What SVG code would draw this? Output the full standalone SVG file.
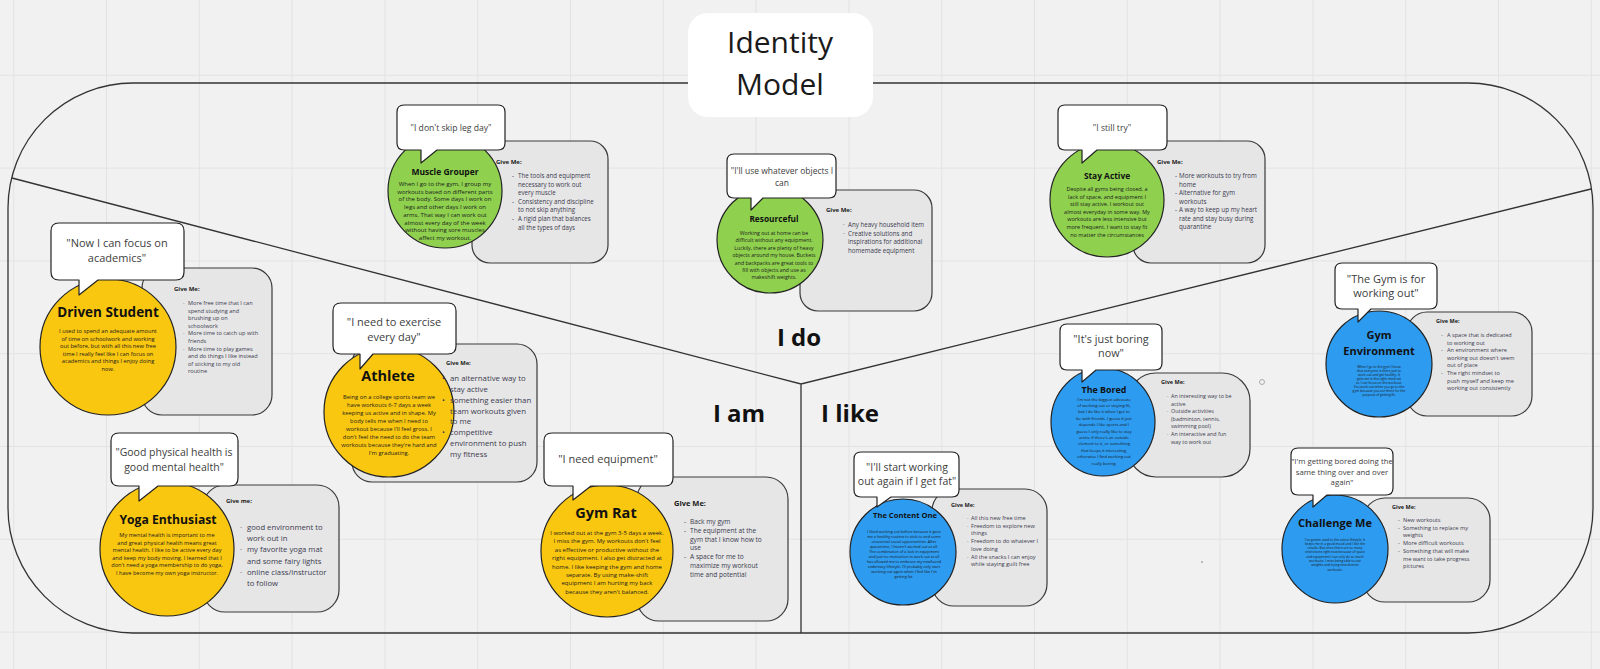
<svg xmlns="http://www.w3.org/2000/svg" width="1600" height="669" viewBox="0 0 1600 669">
<defs>
<pattern id="grid" x="13.2" y="74.8" width="92.8" height="92.8" patternUnits="userSpaceOnUse">
<path d="M0 0.5H92.8M0.5 0V92.8" stroke="#e3e3e3" stroke-width="1" fill="none"/>
</pattern>
<style>
text{font-family:"Open Sans","Liberation Sans",sans-serif}
.frame{fill:none;stroke:#333;stroke-width:1.3}
.give{fill:#e6e6e6;stroke:#3a3a3a;stroke-width:1.2}
.bubble{fill:#fff;stroke:#222;stroke-width:1.2;stroke-linejoin:round}
.yellow{fill:#fac710;stroke:#222;stroke-width:1.2}
.green{fill:#8fd14f;stroke:#222;stroke-width:1.2}
.blue{fill:#2d9bf0;stroke:#222;stroke-width:1.2}
.q{fill:#404040;text-anchor:middle}
.t{font-weight:700;fill:#111;text-anchor:middle}
.b{fill:#1a1a1a;text-anchor:middle}
.g{font-weight:700;fill:#1a1a1a}
.i{fill:#3b3b4f}
.lbl{font-weight:700;fill:#111;font-size:24px;text-anchor:middle}
</style>
</defs>
<rect width="1600" height="669" fill="#f1f1f1"/>
<rect width="1600" height="669" fill="url(#grid)"/>

<g id="frame">
<rect class="frame" x="8" y="83" width="1585" height="550" rx="125" ry="125"/>
<path class="frame" d="M12 178L801 384L1591 189M801 384V633"/>
</g>

<g id="title">
<rect x="688" y="13" width="185" height="104" rx="20" fill="#fff"/>
<text x="780" y="53" font-size="30" fill="#1a1a1a" text-anchor="middle">Identity</text>
<text x="780" y="95" font-size="30" fill="#1a1a1a" text-anchor="middle">Model</text>
</g>

<g id="labels">
<text class="lbl" x="799" y="346">I do</text>
<text class="lbl" x="739" y="422">I am</text>
<text class="lbl" x="850" y="422">I like</text>
</g>

<g id="muscle-grouper">
<rect class="give" x="472" y="141" width="136" height="122" rx="18"/>
<circle class="green" cx="445" cy="191" r="57"/>
<path class="bubble" d="M404 105H498Q505 105 505 112V143Q505 150 498 150H437L421 163V150H404Q397 150 397 143V112Q397 105 404 105Z"/>
<text class="q" x="451" y="131" font-size="8.6">"I don't skip leg day"</text>
<text class="t" x="445" y="175" font-size="8.5">Muscle Grouper</text>
<text class="b" x="445" y="186" font-size="6"><tspan x="445" dy="0">When I go to the gym, I group my</tspan><tspan x="445" dy="7.7">workouts based on different parts</tspan><tspan x="445" dy="7.7">of the body. Some days I work on</tspan><tspan x="445" dy="7.7">legs and other days I work on</tspan><tspan x="445" dy="7.7">arms. That way I can work out</tspan><tspan x="445" dy="7.7">almost every day of the week</tspan><tspan x="445" dy="7.7">without having sore muscles</tspan><tspan x="445" dy="7.7">affect my workout.</tspan></text>
<text class="g" x="496" y="164" font-size="6">Give Me:</text>
<text class="i" font-size="6.2"><tspan x="512" y="178">-</tspan><tspan x="518" y="178">The tools and equipment</tspan><tspan x="518" y="186.6">necessary to work out</tspan><tspan x="518" y="195.2">every muscle</tspan><tspan x="512" y="203.8">-</tspan><tspan x="518" y="203.8">Consistency and discipline</tspan><tspan x="518" y="212.4">to not skip anything</tspan><tspan x="512" y="221">-</tspan><tspan x="518" y="221">A rigid plan that balances</tspan><tspan x="518" y="229.6">all the types of days</tspan></text>
</g>

<g id="resourceful">
<rect class="give" x="800" y="190" width="132" height="121" rx="18"/>
<circle class="green" cx="770" cy="240" r="53"/>
<path class="bubble" d="M734 154H829Q836 154 836 161V191Q836 198 829 198H763L751 210V198H734Q727 198 727 191V161Q727 154 734 154Z"/>
<text class="q" x="782" y="174" font-size="8.5">"I'll use whatever objects I</text>
<text class="q" x="782" y="186" font-size="8.5">can</text>
<text class="t" x="774" y="222" font-size="8.3">Resourceful</text>
<text class="b" x="774" y="235" font-size="5.2"><tspan x="774" dy="0">Working out at home can be</tspan><tspan x="774" dy="7.4">difficult without any equipment.</tspan><tspan x="774" dy="7.4">Luckily, there are plenty of heavy</tspan><tspan x="774" dy="7.4">objects around my house. Buckets</tspan><tspan x="774" dy="7.4">and backpacks are great tools to</tspan><tspan x="774" dy="7.4">fill with objects and use as</tspan><tspan x="774" dy="7.4">makeshift weights.</tspan></text>
<text class="g" x="826" y="212" font-size="6">Give Me:</text>
<text class="i" font-size="6.2"><tspan x="843" y="227">·</tspan><tspan x="848" y="227">Any heavy household item</tspan><tspan x="843" y="235.6">·</tspan><tspan x="848" y="235.6">Creative solutions and</tspan><tspan x="848" y="244.2">inspirations for additional</tspan><tspan x="848" y="252.8">homemade equipment</tspan></text>
</g>

<g id="stay-active">
<rect class="give" x="1133" y="141" width="132" height="122" rx="18"/>
<circle class="green" cx="1107" cy="200" r="57"/>
<path class="bubble" d="M1065 105H1160Q1167 105 1167 112V143Q1167 150 1160 150H1097L1082 163V150H1065Q1058 150 1058 143V112Q1058 105 1065 105Z"/>
<text class="q" x="1112" y="131" font-size="8.6">"I still try"</text>
<text class="t" x="1107" y="179" font-size="8.4">Stay Active</text>
<text class="b" x="1107" y="191" font-size="5.5"><tspan x="1107" dy="0">Despite all gyms being closed, a</tspan><tspan x="1107" dy="7.6">lack of space, and equipment I</tspan><tspan x="1107" dy="7.6">still stay active. I workout out</tspan><tspan x="1107" dy="7.6">almost everyday in some way. My</tspan><tspan x="1107" dy="7.6">workouts are less intensive but</tspan><tspan x="1107" dy="7.6">more frequent. I want to stay fit</tspan><tspan x="1107" dy="7.6">no matter the circumstances</tspan></text>
<text class="g" x="1157" y="164" font-size="6">Give Me:</text>
<text class="i" font-size="6.3"><tspan x="1175" y="178">-</tspan><tspan x="1179" y="178">More workouts to try from</tspan><tspan x="1179" y="186.5">home</tspan><tspan x="1175" y="195">-</tspan><tspan x="1179" y="195">Alternative for gym</tspan><tspan x="1179" y="203.5">workouts</tspan><tspan x="1175" y="212">-</tspan><tspan x="1179" y="212">A way to keep up my heart</tspan><tspan x="1179" y="220.5">rate and stay busy during</tspan><tspan x="1179" y="229">quarantine</tspan></text>
</g>

<g id="driven-student">
<rect class="give" x="142" y="268" width="130" height="147" rx="20"/>
<circle class="yellow" cx="108" cy="347" r="68"/>
<path class="bubble" d="M59 223H176Q184 223 184 231V272Q184 280 176 280H98L79 295V280H59Q51 280 51 272V231Q51 223 59 223Z"/>
<text class="q" x="117" y="247" font-size="11">"Now I can focus on</text>
<text class="q" x="117" y="262" font-size="11">academics"</text>
<text class="t" x="108" y="317" font-size="13.5">Driven Student</text>
<text class="b" x="108" y="333" font-size="5.7"><tspan x="108" dy="0">I used to spend an adequate amount</tspan><tspan x="108" dy="7.6">of time on schoolwork and working</tspan><tspan x="108" dy="7.6">out before, but with all this new free</tspan><tspan x="108" dy="7.6">time I really feel like I can focus on</tspan><tspan x="108" dy="7.6">academics and things I enjoy doing</tspan><tspan x="108" dy="7.6">now.</tspan></text>
<text class="g" x="174" y="291" font-size="6">Give Me:</text>
<text class="i" font-size="5.6"><tspan x="183" y="305">·</tspan><tspan x="188" y="305">More free time that I can</tspan><tspan x="188" y="312.6">spend studying and</tspan><tspan x="188" y="320.2">brushing up on</tspan><tspan x="188" y="327.8">schoolwork</tspan><tspan x="183" y="335.4">·</tspan><tspan x="188" y="335.4">More time to catch up with</tspan><tspan x="188" y="343">friends</tspan><tspan x="183" y="350.6">·</tspan><tspan x="188" y="350.6">More time to play games</tspan><tspan x="188" y="358.2">and do things I like instead</tspan><tspan x="188" y="365.8">of sticking to my old</tspan><tspan x="188" y="373.4">routine</tspan></text>
</g>

<g id="athlete">
<rect class="give" x="352" y="344" width="185" height="138" rx="20"/>
<circle class="yellow" cx="389" cy="412" r="65"/>
<path class="bubble" d="M341 303H448Q456 303 456 311V346Q456 354 448 354H373L360 369V354H341Q333 354 333 346V311Q333 303 341 303Z"/>
<text class="q" x="394" y="326" font-size="11">"I need to exercise</text>
<text class="q" x="394" y="341" font-size="11">every day"</text>
<text class="t" x="388" y="381" font-size="14.5">Athlete</text>
<text class="b" x="389" y="399" font-size="5.8"><tspan x="389" dy="0">Being on a college sports team we</tspan><tspan x="389" dy="8">have workouts 6-7 days a week</tspan><tspan x="389" dy="8">keeping us active and in shape. My</tspan><tspan x="389" dy="8">body tells me when I need to</tspan><tspan x="389" dy="8">workout because I'll feel gross. I</tspan><tspan x="389" dy="8">don't feel the need to do the team</tspan><tspan x="389" dy="8">workouts because they're hard and</tspan><tspan x="389" dy="8">I'm graduating.</tspan></text>
<text class="g" x="446" y="365" font-size="5.8">Give Me:</text>
<text class="i" font-size="7.8"><tspan x="442" y="381">•</tspan><tspan x="450" y="381">an alternative way to</tspan><tspan x="450" y="391.9">stay active</tspan><tspan x="442" y="402.7">•</tspan><tspan x="450" y="402.7">something easier than</tspan><tspan x="450" y="413.6">team workouts given</tspan><tspan x="450" y="424.4">to me</tspan><tspan x="442" y="435.3">•</tspan><tspan x="450" y="435.3">competitive</tspan><tspan x="450" y="446.1">environment to push</tspan><tspan x="450" y="457">my fitness</tspan></text>
</g>

<g id="yoga-enthusiast">
<rect class="give" x="203" y="485" width="136" height="127" rx="22"/>
<circle class="yellow" cx="167" cy="549" r="67"/>
<path class="bubble" d="M119 433H230Q238 433 238 441V478Q238 486 230 486H158L139 501V486H119Q111 486 111 478V441Q111 433 119 433Z"/>
<text class="q" x="174" y="456" font-size="10.5">"Good physical health is</text>
<text class="q" x="174" y="471" font-size="10.5">good mental health"</text>
<text class="t" x="168" y="524" font-size="12.2">Yoga Enthusiast</text>
<text class="b" x="167" y="537" font-size="5.6"><tspan x="167" dy="0">My mental health is important to me</tspan><tspan x="167" dy="7.6">and great physical health means great</tspan><tspan x="167" dy="7.6">mental health. I like to be active every day</tspan><tspan x="167" dy="7.6">and keep my body moving. I learned that I</tspan><tspan x="167" dy="7.6">don't need a yoga membership to do yoga,</tspan><tspan x="167" dy="7.6">I have become my own yoga instructor.</tspan></text>
<text class="g" x="226" y="503" font-size="6">Give me:</text>
<text class="i" font-size="7.7"><tspan x="240" y="530">·</tspan><tspan x="247" y="530">good environment to</tspan><tspan x="247" y="541.2">work out in</tspan><tspan x="240" y="552.4">·</tspan><tspan x="247" y="552.4">my favorite yoga mat</tspan><tspan x="247" y="563.6">and some fairy lights</tspan><tspan x="240" y="574.8">·</tspan><tspan x="247" y="574.8">online class/instructor</tspan><tspan x="247" y="586">to follow</tspan></text>
</g>

<g id="gym-rat">
<rect class="give" x="637" y="477" width="151" height="144" rx="22"/>
<circle class="yellow" cx="607" cy="551" r="66"/>
<path class="bubble" d="M552 433H665Q673 433 673 441V478Q673 486 665 486H591L573 500V486H552Q544 486 544 478V441Q544 433 552 433Z"/>
<text class="q" x="608" y="463" font-size="11">"I need equipment"</text>
<text class="t" x="606" y="518" font-size="14.5">Gym Rat</text>
<text class="b" x="607" y="535" font-size="6"><tspan x="607" dy="0">I worked out at the gym 3-5 days a week.</tspan><tspan x="607" dy="8.4">I miss the gym. My workouts don't feel</tspan><tspan x="607" dy="8.4">as effective or productive without the</tspan><tspan x="607" dy="8.4">right equipment. I also get distracted at</tspan><tspan x="607" dy="8.4">home. I like keeping the gym and home</tspan><tspan x="607" dy="8.4">separate. By using make-shift</tspan><tspan x="607" dy="8.4">equipment I am hurting my back</tspan><tspan x="607" dy="8.4">because they aren't balanced.</tspan></text>
<text class="g" x="674" y="506" font-size="7.5">Give Me:</text>
<text class="i" font-size="6.6"><tspan x="684" y="524">-</tspan><tspan x="690" y="524">Back my gym</tspan><tspan x="684" y="532.8">-</tspan><tspan x="690" y="532.8">The equipment at the</tspan><tspan x="690" y="541.6">gym that I know how to</tspan><tspan x="690" y="550.4">use</tspan><tspan x="684" y="559.2">-</tspan><tspan x="690" y="559.2">A space for me to</tspan><tspan x="690" y="568">maximize my workout</tspan><tspan x="690" y="576.8">time and potential</tspan></text>
</g>

<g id="the-bored">
<rect class="give" x="1128" y="373" width="122" height="104" rx="28"/>
<ellipse class="blue" cx="1103" cy="422" rx="52" ry="54"/>
<path class="bubble" d="M1067 324H1155Q1162 324 1162 331V363Q1162 370 1155 370H1096L1082 382V370H1067Q1060 370 1060 363V331Q1060 324 1067 324Z"/>
<text class="q" x="1111" y="343" font-size="10.8">"It's just boring</text>
<text class="q" x="1111" y="357" font-size="10.8">now"</text>
<text class="t" x="1104" y="393" font-size="8.9">The Bored</text>
<text class="b" x="1104" y="400.5" font-size="4.1"><tspan x="1104" dy="0">I'm not the biggest advocate</tspan><tspan x="1104" dy="6.4">of working out or staying fit,</tspan><tspan x="1104" dy="6.4">but I do like it when I get to</tspan><tspan x="1104" dy="6.4">be with friends. I guess it just</tspan><tspan x="1104" dy="6.4">depends I like sports and I</tspan><tspan x="1104" dy="6.4">guess I only really like to stay</tspan><tspan x="1104" dy="6.4">active if there's an outside</tspan><tspan x="1104" dy="6.4">element to it, or something</tspan><tspan x="1104" dy="6.4">that keeps it interesting,</tspan><tspan x="1104" dy="6.4">otherwise I find working out</tspan><tspan x="1104" dy="6.4">really boring.</tspan></text>
<text class="g" x="1161" y="384" font-size="5.5">Give Me:</text>
<text class="i" font-size="5.4"><tspan x="1167" y="398">·</tspan><tspan x="1171" y="398">An interesting way to be</tspan><tspan x="1171" y="405.6">active</tspan><tspan x="1167" y="413.2">·</tspan><tspan x="1171" y="413.2">Outside activities</tspan><tspan x="1171" y="420.8">(badminton, tennis,</tspan><tspan x="1171" y="428.4">swimming pool)</tspan><tspan x="1167" y="436">·</tspan><tspan x="1171" y="436">An interactive and fun</tspan><tspan x="1171" y="443.6">way to work out</tspan></text>
<circle cx="1262" cy="382" r="2.5" fill="none" stroke="#999" stroke-width="0.8"/>
</g>

<g id="gym-environment">
<rect class="give" x="1407" y="312" width="125" height="104" rx="20"/>
<circle class="blue" cx="1379" cy="364" r="53"/>
<path class="bubble" d="M1342 263H1430Q1437 263 1437 270V302Q1437 309 1430 309H1371L1358 322V309H1342Q1335 309 1335 302V270Q1335 263 1342 263Z"/>
<text class="q" x="1386" y="283" font-size="11">"The Gym is for</text>
<text class="q" x="1386" y="297" font-size="11">working out"</text>
<text class="t" x="1379" y="339" font-size="11">Gym</text>
<text class="t" x="1379" y="355" font-size="11">Environment</text>
<text class="b" x="1379" y="367.5" font-size="3.3"><tspan x="1379" dy="0">When I go to the gym I know</tspan><tspan x="1379" dy="4.1">that everyone is there just to</tspan><tspan x="1379" dy="4.1">work out and get healthy. It</tspan><tspan x="1379" dy="4.1">gets me in the right mind set</tspan><tspan x="1379" dy="4.1">so I can focus on the workout.</tspan><tspan x="1379" dy="4.1">You work out when you go to the</tspan><tspan x="1379" dy="4.1">gym because you are there for the</tspan><tspan x="1379" dy="4.1">purpose of getting fit.</tspan></text>
<text class="g" x="1436" y="323" font-size="5.5">Give Me:</text>
<text class="i" font-size="5.6"><tspan x="1441" y="337">-</tspan><tspan x="1447" y="337">A space that is dedicated</tspan><tspan x="1447" y="344.6">to working out</tspan><tspan x="1441" y="352.2">-</tspan><tspan x="1447" y="352.2">An environment where</tspan><tspan x="1447" y="359.8">working out doesn't seem</tspan><tspan x="1447" y="367.4">out of place</tspan><tspan x="1441" y="375">-</tspan><tspan x="1447" y="375">The right mindset to</tspan><tspan x="1447" y="382.6">push myself and keep me</tspan><tspan x="1447" y="390.2">working out consistently</tspan></text>
</g>

<g id="the-content-one">
<rect class="give" x="932" y="489" width="115" height="117" rx="22"/>
<circle class="blue" cx="903" cy="552" r="53"/>
<path class="bubble" d="M861 452H952Q959 452 959 459V490Q959 497 952 497H891L877 507V497H861Q854 497 854 490V459Q854 452 861 452Z"/>
<text class="q" x="907" y="471" font-size="10.5">"I'll start working</text>
<text class="q" x="907" y="485" font-size="10.5">out again if I get fat"</text>
<text class="t" x="905" y="518" font-size="7.6">The Content One</text>
<text class="b" x="904" y="533" font-size="3.8"><tspan x="904" dy="0">I liked working out before because it gave</tspan><tspan x="904" dy="5">me a healthy routine to stick to and some</tspan><tspan x="904" dy="5">occasional social opportunities. After</tspan><tspan x="904" dy="5">quarantine, I haven't worked out at all.</tspan><tspan x="904" dy="5">The combination of a lack in equipment</tspan><tspan x="904" dy="5">and just no motivation to work out at all</tspan><tspan x="904" dy="5">has allowed me to embrace my newfound</tspan><tspan x="904" dy="5">sedentary lifestyle. I'll probably only start</tspan><tspan x="904" dy="5">working out again when I feel like I'm</tspan><tspan x="904" dy="5">getting fat.</tspan></text>
<text class="g" x="951" y="507" font-size="5.5">Give Me:</text>
<text class="i" font-size="5.6"><tspan x="967" y="520">·</tspan><tspan x="971" y="520">All this new free time</tspan><tspan x="967" y="527.7">·</tspan><tspan x="971" y="527.7">Freedom to explore new</tspan><tspan x="971" y="535.4">things</tspan><tspan x="967" y="543.1">·</tspan><tspan x="971" y="543.1">Freedom to do whatever I</tspan><tspan x="971" y="550.8">love doing</tspan><tspan x="967" y="558.5">·</tspan><tspan x="971" y="558.5">All the snacks I can enjoy</tspan><tspan x="971" y="566.2">while staying guilt free</tspan></text>
</g>

<g id="challenge-me">
<rect class="give" x="1363" y="498" width="127" height="104" rx="22"/>
<ellipse class="blue" cx="1335" cy="549" rx="53" ry="54"/>
<path class="bubble" d="M1298 448H1386Q1393 448 1393 455V488Q1393 495 1386 495H1327L1313 507V495H1298Q1291 495 1291 488V455Q1291 448 1298 448Z"/>
<text class="q" x="1342" y="464" font-size="7.8">"I'm getting bored doing the</text>
<text class="q" x="1342" y="474.5" font-size="7.8">same thing over and over</text>
<text class="q" x="1342" y="485" font-size="7.8">again"</text>
<text class="t" x="1335" y="527" font-size="11">Challenge Me</text>
<text class="b" x="1335" y="540.5" font-size="3.3"><tspan x="1335" dy="0">I've gotten used to the active lifestyle. It</tspan><tspan x="1335" dy="4.3">keeps me in a good mood and I like the</tspan><tspan x="1335" dy="4.3">results. But since there are so many</tspan><tspan x="1335" dy="4.3">restrictions right now because of space</tspan><tspan x="1335" dy="4.3">and equipment I can only do so much</tspan><tspan x="1335" dy="4.3">workouts. I miss being able to use</tspan><tspan x="1335" dy="4.3">weights and trying new diverse</tspan><tspan x="1335" dy="4.3">workouts.</tspan></text>
<text class="g" x="1392" y="509" font-size="5.5">Give Me:</text>
<text class="i" font-size="5.6"><tspan x="1398" y="522">-</tspan><tspan x="1403" y="522">New workouts</tspan><tspan x="1398" y="529.7">-</tspan><tspan x="1403" y="529.7">Something to replace my</tspan><tspan x="1403" y="537.4">weights</tspan><tspan x="1398" y="545.1">-</tspan><tspan x="1403" y="545.1">More difficult workouts</tspan><tspan x="1398" y="552.8">-</tspan><tspan x="1403" y="552.8">Something that will make</tspan><tspan x="1403" y="560.5">me want to take progress</tspan><tspan x="1403" y="568.2">pictures</tspan></text>
</g>

<g id="marks">
<circle cx="1202" cy="562" r="0.8" fill="#777"/>
</g>
</svg>
